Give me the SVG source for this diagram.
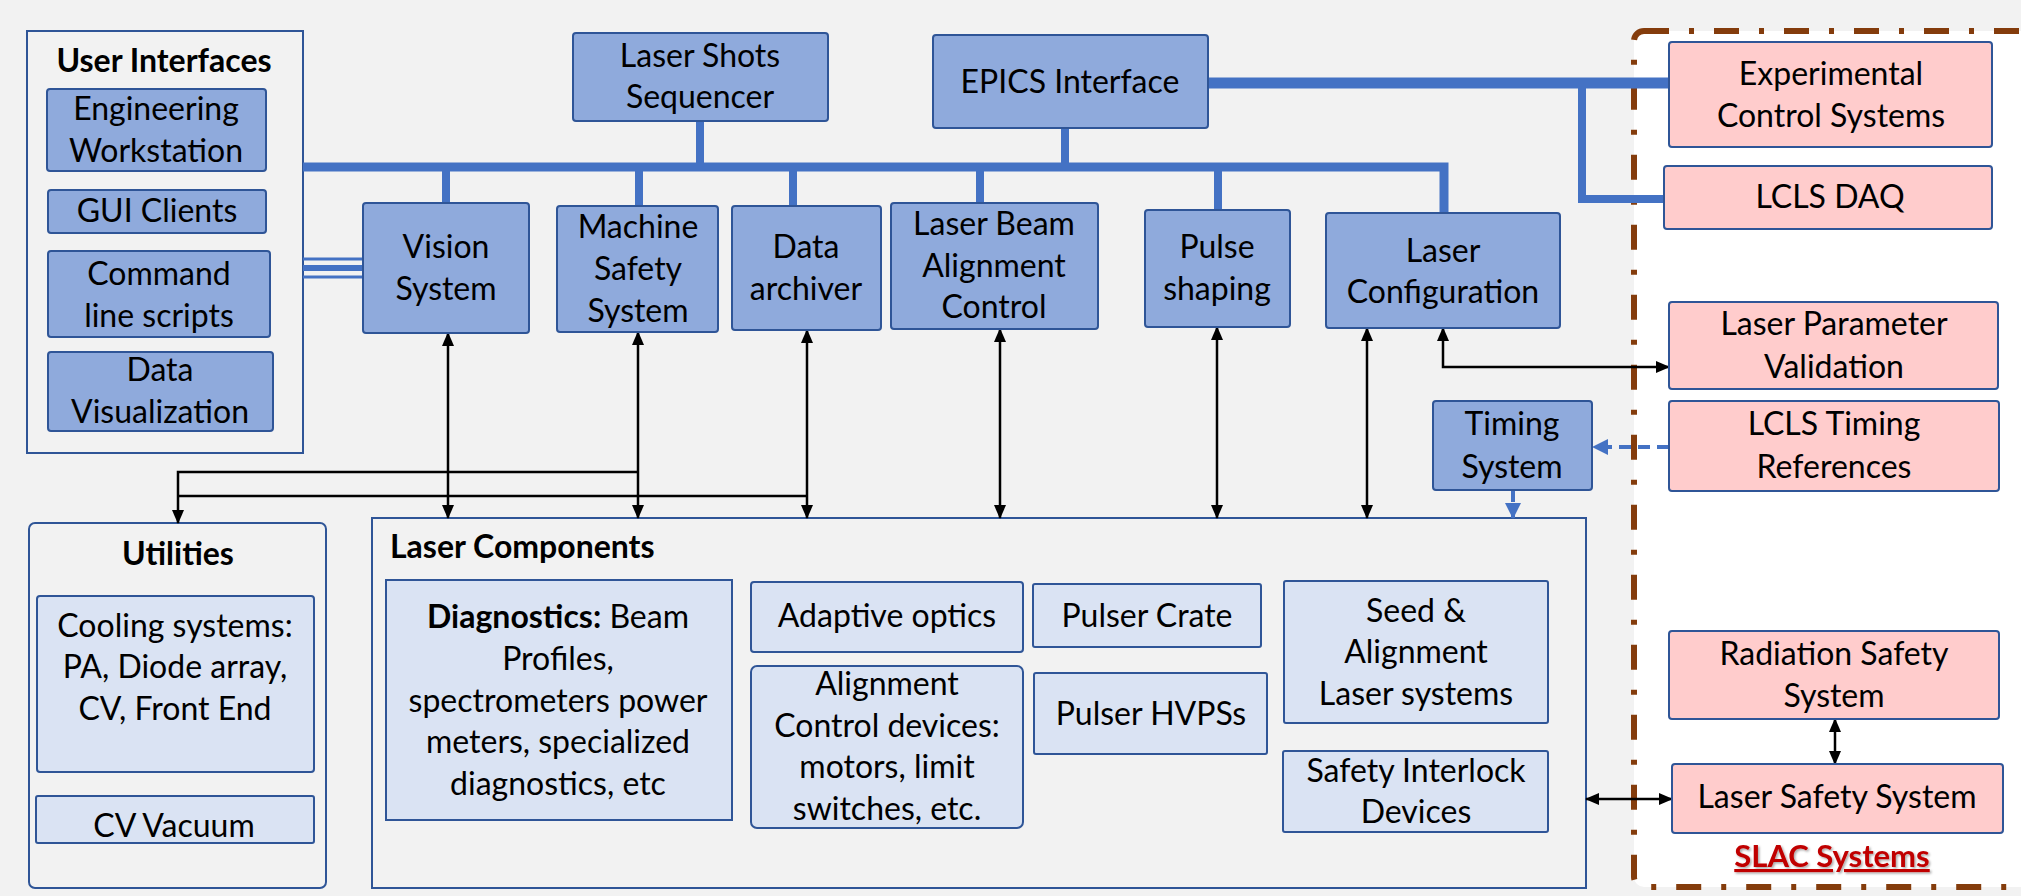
<svg xmlns="http://www.w3.org/2000/svg" width="2021" height="896" viewBox="0 0 2021 896">
<defs>
<style>
text{font-family:"Lato","Liberation Sans",sans-serif;font-size:32px;fill:#000;text-anchor:middle}
.b{font-weight:bold}
.st{text-anchor:start}
.nb{fill:#8FAADC;stroke:#2F5597;stroke-width:2}
.nl{fill:#DAE3F3;stroke:#2F5597;stroke-width:2}
.np{fill:#FFCCCC;stroke:#2F5597;stroke-width:2}
.cont{fill:#F2F2F2;stroke:#2F5597;stroke-width:2}
.bus{stroke:#4472C4;fill:none}
.blk{stroke:#000;stroke-width:2.5;fill:none}
.dash{stroke:#4472C4;stroke-width:4;fill:none;stroke-dasharray:12 7}
</style>
<marker id="ah" viewBox="0 0 14 14" refX="13" refY="7" markerWidth="14" markerHeight="14" markerUnits="userSpaceOnUse" orient="auto-start-reverse">
<path d="M0,1 L14,7 L0,13 Z" fill="#000"/>
</marker>
<marker id="ahb" viewBox="0 0 16 16" refX="15" refY="8" markerWidth="16" markerHeight="16" markerUnits="userSpaceOnUse" orient="auto">
<path d="M0,0 L16,8 L0,16 Z" fill="#4472C4"/>
</marker>
<filter id="sh" x="-10%" y="-30%" width="130%" height="160%">
<feDropShadow dx="1.5" dy="1.5" stdDeviation="1" flood-color="#000" flood-opacity="0.35"/>
</filter>
</defs>
<rect x="0" y="0" width="2021" height="896" fill="#F2F2F2"/>
<!-- SLAC region -->
<g id="slac-region">
<rect x="1634" y="31" width="420" height="856" rx="10" fill="#FFFFFF" stroke="#843C0C" stroke-width="6" stroke-dasharray="25 20 5 20"/>
<text class="b" x="1832" y="867" style="fill:#C00000;text-decoration:underline;font-size:31px" filter="url(#sh)">SLAC Systems</text>
</g>
<!-- containers -->
<g id="user-interfaces">
<rect class="cont" x="27" y="31" width="276" height="422"/>
<text class="b" x="164" y="72">User Interfaces</text>
</g>
<g id="utilities">
<rect class="cont" x="29" y="523" width="297" height="365" rx="6"/>
<text class="b" x="178" y="565">Utilities</text>
</g>
<g id="laser-components">
<rect class="cont" x="372" y="518" width="1214" height="370"/>
<text class="b st" x="390" y="558">Laser Components</text>
</g>
<!-- connectors -->
<g id="connectors">
<path class="bus" stroke-width="9" d="M303,167 H1444 V213"/>
<path class="bus" stroke-width="8" d="M446,167 V203 M639,167 V206 M793,167 V206 M980,167 V203 M1218,167 V210 M700,121 V167 M1065,128 V167"/>
<path class="bus" stroke-width="11" d="M1208,83 H1669"/>
<path class="bus" stroke-width="8" d="M1582,83 V199 H1664"/>
<path class="bus" stroke-width="3" d="M303,259 H363 M303,277 H363"/>
<path class="bus" stroke-width="6" d="M303,268 H363"/>
<path class="blk" d="M448,333 V518" marker-start="url(#ah)" marker-end="url(#ah)"/>
<path class="blk" d="M638,332 V518" marker-start="url(#ah)" marker-end="url(#ah)"/>
<path class="blk" d="M807,330 V518" marker-start="url(#ah)" marker-end="url(#ah)"/>
<path class="blk" d="M1000,329 V518" marker-start="url(#ah)" marker-end="url(#ah)"/>
<path class="blk" d="M1217,327 V518" marker-start="url(#ah)" marker-end="url(#ah)"/>
<path class="blk" d="M1367,328 V518" marker-start="url(#ah)" marker-end="url(#ah)"/>
<path class="blk" d="M1443,328 V367 H1669" marker-start="url(#ah)" marker-end="url(#ah)"/>
<path class="blk" d="M638,472 H178 V523" marker-end="url(#ah)"/>
<path class="blk" d="M807,496 H178"/>
<path class="blk" d="M1586,799 H1672" marker-start="url(#ah)" marker-end="url(#ah)"/>
<path class="blk" d="M1835,719 V764" marker-start="url(#ah)" marker-end="url(#ah)"/>
<path class="dash" d="M1669,447 H1593" marker-end="url(#ahb)"/>
<path class="dash" d="M1513,490 V518" marker-end="url(#ahb)"/>
</g>
<!-- nodes -->
<g id="engineering-workstation"><rect class="nb" x="47" y="89" width="219" height="82" rx="3"/><text x="156" y="120">Engineering</text><text x="156" y="162">Workstation</text></g>
<g id="gui-clients"><rect class="nb" x="48" y="190" width="218" height="43" rx="3"/><text x="157" y="222">GUI Clients</text></g>
<g id="command-line-scripts"><rect class="nb" x="48" y="251" width="222" height="86" rx="3"/><text x="159" y="285">Command</text><text x="159" y="327">line scripts</text></g>
<g id="data-visualization"><rect class="nb" x="48" y="352" width="225" height="79" rx="3"/><text x="160" y="381">Data</text><text x="160" y="423">Visualization</text></g>
<g id="vision-system"><rect class="nb" x="363" y="203" width="166" height="130" rx="3"/><text x="446" y="258">Vision</text><text x="446" y="300">System</text></g>
<g id="laser-shots-sequencer"><rect class="nb" x="573" y="33" width="255" height="88" rx="3"/><text x="700" y="67">Laser Shots</text><text x="700" y="108">Sequencer</text></g>
<g id="epics-interface"><rect class="nb" x="933" y="35" width="275" height="93" rx="3"/><text x="1070" y="93">EPICS Interface</text></g>
<g id="machine-safety-system"><rect class="nb" x="557" y="206" width="161" height="126" rx="3"/><text x="638" y="238">Machine</text><text x="638" y="280">Safety</text><text x="638" y="322">System</text></g>
<g id="data-archiver"><rect class="nb" x="732" y="206" width="149" height="124" rx="3"/><text x="806" y="258">Data</text><text x="806" y="300">archiver</text></g>
<g id="laser-beam-alignment-control"><rect class="nb" x="891" y="203" width="207" height="126" rx="3"/><text x="994" y="235">Laser Beam</text><text x="994" y="277">Alignment</text><text x="994" y="318">Control</text></g>
<g id="pulse-shaping"><rect class="nb" x="1145" y="210" width="145" height="117" rx="3"/><text x="1217" y="258">Pulse</text><text x="1217" y="300">shaping</text></g>
<g id="laser-configuration"><rect class="nb" x="1326" y="213" width="234" height="115" rx="3"/><text x="1443" y="262">Laser</text><text x="1443" y="303">Configuration</text></g>
<g id="timing-system"><rect class="nb" x="1433" y="401" width="159" height="89" rx="3"/><text x="1512" y="435">Timing</text><text x="1512" y="478">System</text></g>
<g id="experimental-control-systems"><rect class="np" x="1669" y="42" width="323" height="105" rx="3"/><text x="1831" y="85">Experimental</text><text x="1831" y="127">Control Systems</text></g>
<g id="lcls-daq"><rect class="np" x="1664" y="166" width="328" height="63" rx="3"/><text x="1830" y="208">LCLS DAQ</text></g>
<g id="laser-parameter-validation"><rect class="np" x="1669" y="302" width="329" height="87" rx="3"/><text x="1834" y="335">Laser Parameter</text><text x="1834" y="378">Validation</text></g>
<g id="lcls-timing-references"><rect class="np" x="1669" y="401" width="330" height="90" rx="3"/><text x="1834" y="435">LCLS Timing</text><text x="1834" y="478">References</text></g>
<g id="radiation-safety-system"><rect class="np" x="1669" y="631" width="330" height="88" rx="3"/><text x="1834" y="665">Radiation Safety</text><text x="1834" y="707">System</text></g>
<g id="laser-safety-system"><rect class="np" x="1672" y="764" width="331" height="69" rx="3"/><text x="1837" y="808">Laser Safety System</text></g>
<g id="cooling-systems"><rect class="nl" x="37" y="596" width="277" height="176" rx="3"/><text x="175" y="637">Cooling systems:</text><text x="175" y="678">PA, Diode array,</text><text x="175" y="720">CV, Front End</text></g>
<g id="cv-vacuum"><rect class="nl" x="36" y="796" width="278" height="47" rx="2"/><text x="174" y="837">CV Vacuum</text></g>
<g id="diagnostics"><rect class="nl" x="386" y="580" width="346" height="240"/><text x="558" y="628"><tspan class="b">Diagnostics:</tspan> Beam</text><text x="558" y="670">Profiles,</text><text x="558" y="712">spectrometers power</text><text x="558" y="753">meters, specialized</text><text x="558" y="795">diagnostics, etc</text></g>
<g id="adaptive-optics"><rect class="nl" x="751" y="582" width="272" height="70" rx="3"/><text x="887" y="627">Adaptive optics</text></g>
<g id="alignment-control-devices"><rect class="nl" x="751" y="666" width="272" height="162" rx="6"/><text x="887" y="695">Alignment</text><text x="887" y="737">Control devices:</text><text x="887" y="778">motors, limit</text><text x="887" y="820">switches, etc.</text></g>
<g id="pulser-crate"><rect class="nl" x="1033" y="584" width="228" height="63" rx="2"/><text x="1147" y="627">Pulser Crate</text></g>
<g id="pulser-hvpss"><rect class="nl" x="1034" y="673" width="233" height="81" rx="2"/><text x="1151" y="725">Pulser HVPSs</text></g>
<g id="seed-alignment-laser"><rect class="nl" x="1284" y="581" width="264" height="142" rx="2"/><text x="1416" y="622">Seed &amp;</text><text x="1416" y="663">Alignment</text><text x="1416" y="705">Laser systems</text></g>
<g id="safety-interlock-devices"><rect class="nl" x="1283" y="751" width="265" height="81" rx="2"/><text x="1416" y="782">Safety Interlock</text><text x="1416" y="823">Devices</text></g>
</svg>
